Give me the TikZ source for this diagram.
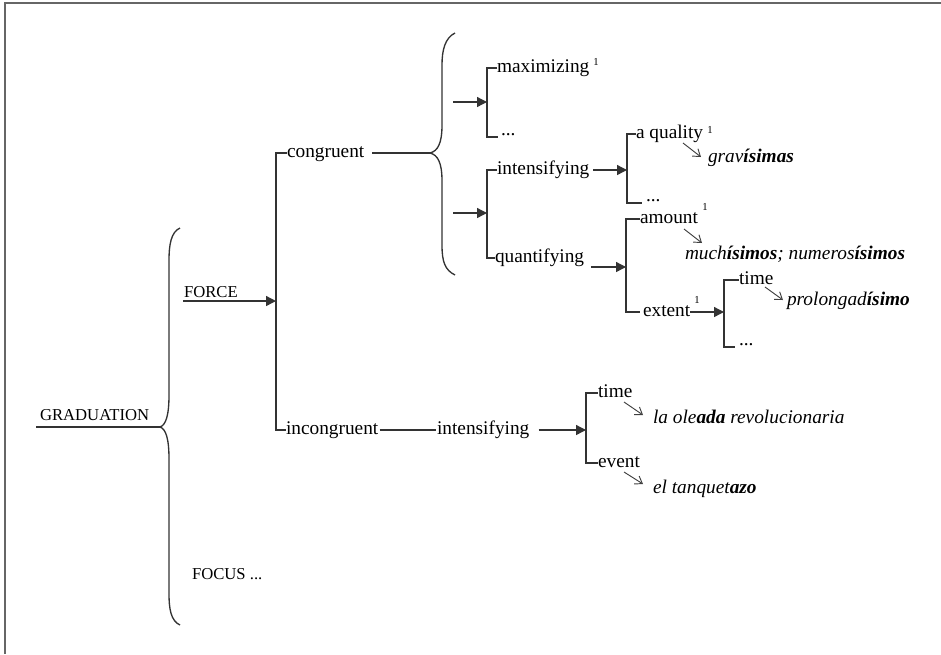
\documentclass[tikz,border=0pt]{standalone}
\usepackage{fontspec}
\setmainfont{Liberation Serif}
\usetikzlibrary{arrows.meta}
\begin{document}
\begin{tikzpicture}[x=0.75pt,y=-0.75pt,
  every node/.style={inner sep=0pt, outer sep=0pt},
  lbl/.style={font=\fontsize{14.5}{17}\selectfont, text height=10pt, text depth=3pt, anchor=west},
  dotl/.style={font=\fontsize{14.5}{17}\selectfont, text height=0pt, text depth=2pt, anchor=west},
  caplbl/.style={font=\fontsize{12.5}{15}\selectfont, anchor=base west},
  ex/.style={font=\fontsize{14.5}{17}\selectfont\itshape, anchor=base west},
  supn/.style={font=\fontsize{8}{9}\selectfont},
  ln/.style={draw=black!80, line width=1pt},
  arr/.style={ln, -{Triangle[length=7.5pt,width=7.5pt]}},
  darr/.style={draw=black!75, line width=0.7pt, -{Straight Barb[length=5pt,width=7pt]}},
  framel/.style={draw=black!60, line width=1.6pt}]

\useasboundingbox (0,0) rectangle (941,654);
\draw[framel] (5,654) -- (5,3) -- (941,3);

% ---------- level 0 ----------
\node[caplbl] (grad) at (40,420) {GRADUATION};
\coordinate (gs) at (36,427);
\coordinate (b1tip) at (160,427);
\draw[ln] (gs) -- (b1tip);
\draw[ln] (180,228) .. controls (171,232) and (169,245) .. (169,260) -- (169,395)
  .. controls (169,415) and (166,425) .. (b1tip)
  .. controls (166,429) and (169,439) .. (169,459) -- (169,594)
  .. controls (169,609) and (171,621) .. (180,625);

\node[caplbl] (force) at (184,297) {FORCE};
\node[caplbl] (focus) at (192,579) {FOCUS ...};
\coordinate (fs) at (183,301);
\coordinate (v1top) at (276,153);
\coordinate (v1mid) at (276,301);
\coordinate (v1bot) at (276,430);
\draw[arr] (fs) -- (v1mid);

% ---------- congruent / incongruent ----------
\node[lbl] (cong) at (287,153) {congruent};
\node[lbl] (incong) at (286,430) {incongruent};
\draw[ln] (cong.west) -- (v1top) -- (v1bot) -- (incong.west);

\coordinate (b2tip) at (430,153);
\draw[ln] ([xshift=6pt]cong.east) -- (b2tip);
\draw[ln] (455,33) .. controls (445,38) and (442,50) .. (442,65) -- (442,125)
  .. controls (442,143) and (438,151) .. (b2tip)
  .. controls (438,155) and (442,163) .. (442,181) -- (442,245)
  .. controls (442,262) and (445,270) .. (455,275);

% bracket A
\coordinate (a1s) at (453,102);
\coordinate (bAmid) at (487,102);
\coordinate (bAt) at (487,68);
\coordinate (bAb) at (487,137);
\draw[arr] (a1s) -- (bAmid);
\node[lbl] (maxi) at (497,68) {maximizing};
\node[supn] (maxis) at (596,62) {1};
\node[dotl] (dotsA) at (501,137) {...};
\draw[ln, shorten >=2pt] (maxi.west) -- (bAt) -- (bAb) -- (dotsA.west);

% bracket B
\coordinate (a2s) at (453,213);
\coordinate (bBmid) at (487,213);
\coordinate (bBt) at (487,170);
\coordinate (bBb) at (487,258);
\draw[arr] (a2s) -- (bBmid);
\node[lbl] (intA) at (497,170) {intensifying};
\node[lbl] (quant) at (495,258) {quantifying};
\draw[ln] (intA.west) -- (bBt) -- (bBb) -- (quant.west);

% bracket D (a quality)
\coordinate (bDt) at (627,134);
\coordinate (bDmid) at (627,170);
\coordinate (bDb) at (627,203);
\draw[arr] ([xshift=3pt]intA.east |- bDmid) -- (bDmid);
\node[lbl] (qual) at (636,134) {a quality};
\node[supn] (quals) at (710,130) {1};
\node[dotl] (dotsD) at (646,203) {...};
\draw[ln, shorten >=3pt] (qual.west) -- (bDt) -- (bDb) -- (dotsD.west);
\node[ex] (grav) at (708,162) {grav\textbf{ísimas}};
\coordinate (d1s) at (683,143);
\coordinate (d1e) at (701,157);
\draw[darr] (d1s) -- (d1e);

% bracket C (amount / extent)
\coordinate (bCt) at (626,219);
\coordinate (bCmid) at (626,267);
\coordinate (bCb) at (626,312);
\draw[arr] ([xshift=5pt]quant.east |- bCmid) -- (bCmid);
\node[lbl] (amount) at (640,219) {amount};
\node[supn] (amounts) at (705,207) {1};
\node[lbl] (extent) at (643,312) {extent};
\node[supn] (extents) at (697,300) {1};
\draw[ln, shorten >=2pt] (amount.west) -- (bCt) -- (bCb) -- (extent.west);
\coordinate (d2s) at (684,229);
\coordinate (d2e) at (702,243);
\draw[darr] (d2s) -- (d2e);
\node[ex] (much) at (685,259) {much\textbf{ísimos}; numeros\textbf{ísimos}};

% bracket E (time / ...)
\coordinate (bEt) at (724,280);
\coordinate (bEmid) at (724,312);
\coordinate (bEb) at (724,347);
\draw[arr] (extent.east) -- (bEmid);
\node[lbl] (timeE) at (739,280) {time};
\node[dotl] (dotsE) at (739,347) {...};
\draw[ln, shorten >=3pt] (timeE.west) -- (bEt) -- (bEb) -- (dotsE.west);
\coordinate (d3s) at (765,287);
\coordinate (d3e) at (783,300);
\draw[darr] (d3s) -- (d3e);
\node[ex] (prol) at (787,305) {prolongad\textbf{ísimo}};

% ---------- incongruent branch ----------
\node[lbl] (intB) at (437,430) {intensifying};
\draw[ln] ([xshift=1pt]incong.east) -- ([xshift=-1pt]intB.west);
\coordinate (bFt) at (586,393);
\coordinate (bFmid) at (586,430);
\coordinate (bFb) at (586,463);
\draw[arr] ([xshift=7pt]intB.east) -- (bFmid);
\node[lbl] (timeF) at (598,393) {time};
\node[lbl] (event) at (598,463) {event};
\draw[ln] (timeF.west) -- (bFt) -- (bFb) -- (event.west);
\coordinate (d4s) at (624,402);
\coordinate (d4e) at (643,415);
\draw[darr] (d4s) -- (d4e);
\node[ex] (oleada) at (653,423) {la ole\textbf{ada} revolucionaria};
\coordinate (d5s) at (624,472);
\coordinate (d5e) at (643,484);
\draw[darr] (d5s) -- (d5e);
\node[ex] (tanq) at (653,493) {el tanquet\textbf{azo}};
\end{tikzpicture}
\end{document}
